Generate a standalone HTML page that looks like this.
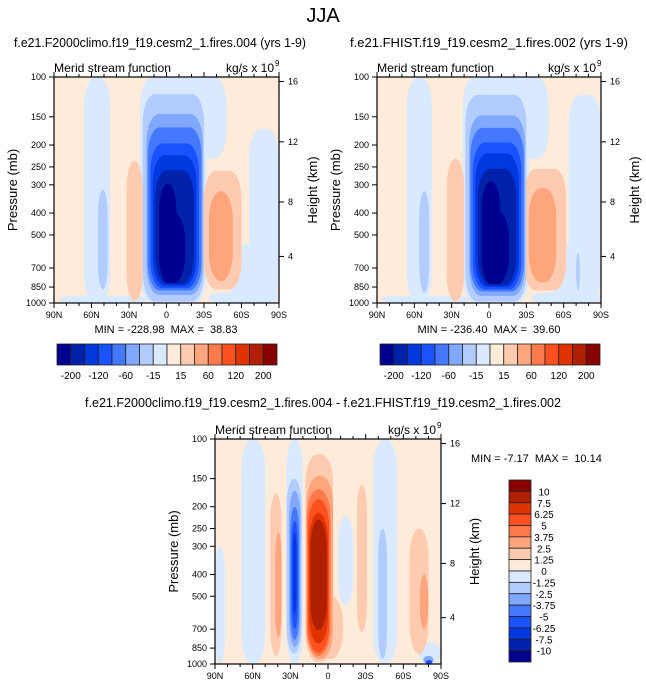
<!DOCTYPE html>
<html><head><meta charset="utf-8"><style>
html,body{margin:0;padding:0;background:#fff;}
svg{display:block;font-family:"Liberation Sans",Arial,sans-serif;}
text{white-space:pre;}
</style></head><body>
<svg id="fig" width="646" height="688" viewBox="0 0 646 688" xmlns="http://www.w3.org/2000/svg">
<text x="323" y="22" font-size="20" text-anchor="middle">JJA</text>
<g id="root"></g>
</svg>
<script>
// ---- data ----
const colors16 = ["#000090","#0022aa","#0038e0","#1a52ff","#4479ff","#80a8ff","#b3ccff","#d9e9ff","#ffebd9","#ffcbb0","#ffa57e","#ff7a4a","#ff5020","#e03400","#b02000","#880000"];
const topBarLabels = ["-200","-120","-60","-15","15","60","120","200"];
const topBarLabelIdx = [1,3,5,7,9,11,13,15];
const diffBarLabels = ["10","7.5","6.25","5","3.75","2.5","1.25","0","-1.25","-2.5","-3.75","-5","-6.25","-7.5","-10"];
const pressureTicks = [100,150,200,250,300,400,500,700,850,1000];
const heightTicks = [4,8,12,16];
const latTicks = [-90,-60,-30,0,30,60,90];
const latLabels = ["90N","60N","30N","0","30S","60S","90S"];
// blobs: [latLeft, latRight, pTop, pBottom, colorIndex]
const blobs1 = [
 [-66,-45,100,1000,7],[-86,-16,930,1000,7],[-21,48,100,230,7],[-21,32,100,1000,7],[66,90,170,1000,7],[50,90,550,1000,7],[34,90,900,1000,7],
 [-32,-19,235,980,9],[30,60,260,870,9],[34,53,320,800,10],[-55,-47,315,870,6],
 [-19,30,119,985,6],[-16,29,146,920,5],[-15,28,167,880,4],[-13,26,197,860,3],[-11,24,222,840,2],[-9,22,258,825,1],[-6,8,296,816,0],[-6,15,400,816,0]
];
const blobs2 = [
 [-66,-46,100,1000,7],[-86,-16,930,1000,7],[-21,48,100,230,7],[-21,32,100,1000,7],[64,90,120,1000,7],[50,90,550,1000,7],[34,90,900,1000,7],
 [-34,-20,230,985,9],[28,62,255,880,9],[32,54,310,810,10],[-56,-48,320,900,6],[70,73,600,880,6],
 [-19,30,120,985,6],[-16,29,148,930,5],[-15,28,168,890,4],[-13,26,195,870,3],[-11,24,218,850,2],[-9,22,255,835,1],[-6,9,290,825,0],[-6,16,390,825,0]
];
const blobs3 = [
 [-69,-50,100,1000,7],[-90,-82,300,1000,7],[-33,-20,100,1000,7],[36,55,100,1000,7],[8,20,220,550,7],[72,90,800,1000,7],
 [-33,-21,150,900,6],[-31,-22,170,840,5],[-30,-23,200,780,4],[-29,-24,230,700,3],[-28,-25,260,600,2],
 [40,47,250,950,6],[76,84,920,1000,5],[78,83,960,1000,3],
 [-46,-37,175,920,9],[-42,-37,260,760,10],[23,31,160,720,9],[65,80,250,900,9],[73,80,400,700,10],
 [-18,4,117,977,9],[-18,12,500,950,9],[-17,4,146,950,10],[-17,2,167,920,11],[-16,1,185,890,12],[-15,0,213,810,13],[-14,-1,228,707,14]
];
// ---- helpers ----
const NS="http://www.w3.org/2000/svg";
const root=document.getElementById('root');
function el(tag,attrs,parent,txt){const e=document.createElementNS(NS,tag);for(const k in attrs)e.setAttribute(k,attrs[k]);if(txt!==undefined)e.textContent=txt;(parent||root).appendChild(e);return e;}
function makePanel(x0,y0,w,h,blobs,minmax,mmPos,title,titleX,titleY,titleLen){
  const xs=lat=>x0+(lat+90)/180*w;
  const ys=p=>y0+Math.log(p/100)/Math.log(10)*h;
  const g=el('g',{});
  
  
  const cp='clip'+x0;
  const cl=el('clipPath',{id:cp},g);el('rect',{x:x0,y:y0,width:w,height:h},cl);
  const bg=el('rect',{x:x0,y:y0,width:w,height:h,fill:colors16[8]},g);
  
  
  const cg=el('g',{'clip-path':`url(#${cp})`},g);
  blobs.forEach(b=>{
    const x1=xs(b[0]),x2=xs(b[1]),y1=ys(b[2]),y2=ys(b[3]);
    const r=el('rect',{x:x1,y:y1,width:x2-x1,height:y2-y1,rx:Math.min((x2-x1)/2,12),ry:Math.min((y2-y1)/2,28),fill:colors16[b[4]]},cg);
    
    
  });
  el('rect',{x:x0,y:y0,width:w,height:h,fill:'none',stroke:'#000','stroke-width':1.2},g);
  for(let l=-90;l<=90;l+=10){const x=xs(l);const big=l%30===0;
    el('line',{x1:x,x2:x,y1:y0+h,y2:y0+h+(big?5:3),stroke:'#000'},g);
    el('line',{x1:x,x2:x,y1:y0,y2:y0-(big?5:3),stroke:'#000'},g);}
  latTicks.forEach((l,i)=>{const t=el('text',{x:xs(l),y:y0+h+15,'font-size':9,'text-anchor':'middle'},g,latLabels[i]);
    });
  pressureTicks.forEach(p=>{const y=ys(p);el('line',{x1:x0-5,x2:x0,y1:y,y2:y,stroke:'#000'},g);
    const t=el('text',{x:x0-8,y:y+3,'font-size':9,'text-anchor':'end'},g,String(p));
    });
  const hy={4:0.794,8:0.553,12:0.287,16:0.02};
  heightTicks.forEach(z=>{const y=y0+hy[z]*h;el('line',{x1:x0+w,x2:x0+w+5,y1:y,y2:y,stroke:'#000'},g);
    const t=el('text',{x:x0+w+9,y:y+3,'font-size':9},g,String(z));
    });
  const yl=el('text',{x:0,y:0,'font-size':13,'text-anchor':'middle',transform:`translate(${x0-37},${y0+h/2}) rotate(-90)`},g,'Pressure (mb)');
  
  const hl=el('text',{x:0,y:0,'font-size':13,'text-anchor':'middle',transform:`translate(${x0+w+38},${y0+h/2}) rotate(-90)`},g,'Height (km)');
  
  const st=el('text',{x:x0,y:y0-5,'font-size':12,textLength:117,lengthAdjust:'spacingAndGlyphs'},g,'Merid stream function');
  
  const un=el('text',{x:x0+w-53,y:y0-5,'font-size':12},g,'kg/s x 10');
  
  el('text',{x:x0+w-4,y:y0-11,'font-size':8},g,'9');
  const mm=el('text',{x:mmPos[0],y:mmPos[1],'font-size':11,'text-anchor':mmPos[2]},g,minmax);
  
  const tt=el('text',{x:titleX,y:titleY,'font-size':13,'text-anchor':'middle',textLength:titleLen,lengthAdjust:'spacingAndGlyphs'},g,title);
  
}
makePanel(54,77,225,226,blobs1,"MIN = -228.98  MAX =  38.83",[166,333,'middle'],"f.e21.F2000climo.f19_f19.cesm2_1.fires.004 (yrs 1-9)",160,47,292);
makePanel(377,77,224,226,blobs2,"MIN = -236.40  MAX =  39.60",[489,333,'middle'],"f.e21.FHIST.f19_f19.cesm2_1.fires.002 (yrs 1-9)",489,47,278);
makePanel(215,439,226,225,blobs3,"MIN = -7.17  MAX =  10.14",[471,462,'start'],"f.e21.F2000climo.f19_f19.cesm2_1.fires.004 - f.e21.FHIST.f19_f19.cesm2_1.fires.002",323,407,476);
function hbar(x0,y0,w,h){const bw=w/colors16.length;
  colors16.forEach((c,i)=>{const r=el('rect',{x:x0+i*bw,y:y0,width:bw,height:h,fill:c,stroke:'#222','stroke-width':0.8});
    });
  topBarLabels.forEach((l,i)=>{const t=el('text',{x:x0+topBarLabelIdx[i]*bw,y:y0+h+14,'font-size':10,'text-anchor':'middle'},root,l);
    });}
hbar(57,344,220,21);
hbar(380,344,220,21);
(function(){const x0=509,y0=480,w=22,h=182,bh=h/16;
  for(let i=0;i<16;i++){const r=el('rect',{x:x0,y:y0+i*bh,width:w,height:bh,fill:colors16[15-i],stroke:'#222','stroke-width':0.8});
    }
  diffBarLabels.forEach((l,i)=>{const t=el('text',{x:x0+w+13,y:y0+(i+1)*bh+4,'font-size':10,'text-anchor':'middle'},root,l);
    });})();
</script>
</body></html>
